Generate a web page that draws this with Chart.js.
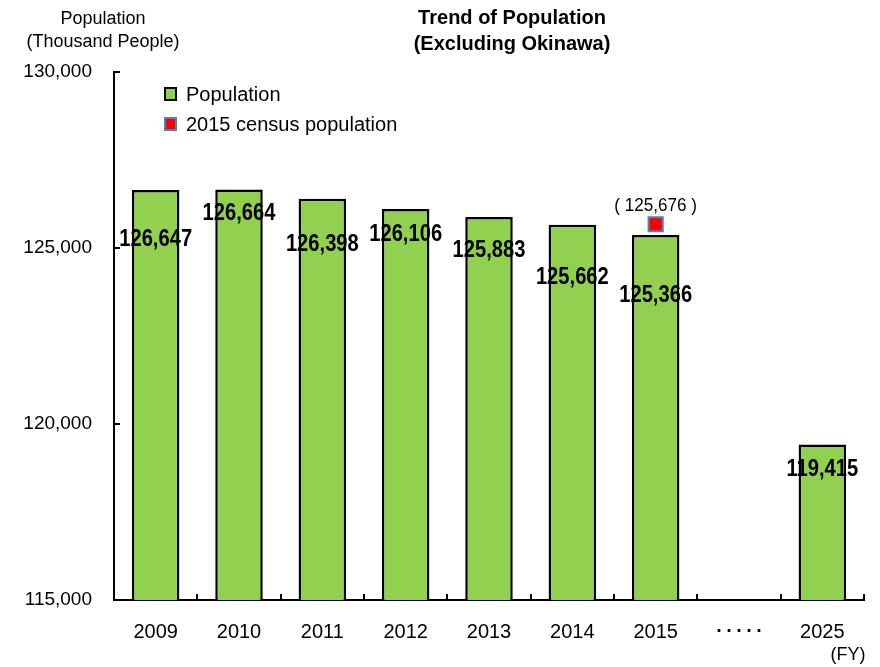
<!DOCTYPE html>
<html>
<head>
<meta charset="utf-8">
<title>Trend of Population</title>
<script src="https://cdn.jsdelivr.net/npm/chart.js@4.4.1/dist/chart.umd.min.js"></script>
<style>
  html, body { margin: 0; padding: 0; background: #fff; }
</style>
</head>
<body>
<canvas id="chart" width="880" height="667"></canvas>
<script>
// --- data (thousand people) ---
const years = ['2009', '2010', '2011', '2012', '2013', '2014', '2015', '･････', '2025'];
const population = [126647, 126664, 126398, 126106, 125883, 125662, 125366, null, 119415];
const census = [null, null, null, null, null, null, 125676, null, null];
const yTicks = [115000, 120000, 125000, 130000];

// how far below each bar top the value label sits (px), like in the original
const labelDrop = [49, 24, 46, 25, 33, 53, 60, 0, 25];

const GREEN = '#92D050';
const RED = '#FF0000';
const BLUE = '#4F81BD';
const SANS = "'Liberation Sans', Arial, sans-serif";

const fmt = v => v.toLocaleString('en-US');

// value labels, legend, titles and the little inward tick marks
const decor = {
    id: 'decor',
    afterDraw(chart) {
        const { ctx, chartArea: a, scales: { x, y } } = chart;
        ctx.save();

        // tick marks pointing into the plot
        ctx.strokeStyle = '#000';
        ctx.lineWidth = 2;
        const step = (a.right - a.left) / years.length;
        years.forEach((_, i) => {
            const px = Math.round(x.getPixelForValue(i) + step / 2);
            ctx.beginPath();
            ctx.moveTo(px, a.bottom);
            ctx.lineTo(px, a.bottom - 6);
            ctx.stroke();
        });
        yTicks.forEach(v => {
            const py = Math.round(y.getPixelForValue(v));
            ctx.beginPath();
            ctx.moveTo(a.left, py);
            ctx.lineTo(a.left + 6, py);
            ctx.stroke();
        });

        // bar value labels: bold, squeezed horizontally (no narrow font installed)
        ctx.fillStyle = '#000';
        ctx.textAlign = 'center';
        ctx.textBaseline = 'middle';
        ctx.font = 'bold 24px ' + SANS;
        population.forEach((v, i) => {
            if (v == null) return;
            ctx.save();
            ctx.translate(x.getPixelForValue(i), y.getPixelForValue(v) + labelDrop[i]);
            ctx.scale(0.84, 1);
            ctx.fillText(fmt(v), 0, 0);
            ctx.restore();
        });

        // census label
        ctx.font = '19px ' + SANS;
        census.forEach((v, i) => {
            if (v == null) return;
            ctx.save();
            ctx.translate(x.getPixelForValue(i), y.getPixelForValue(v) - 18);
            ctx.scale(0.9, 1);
            ctx.fillText('( ' + fmt(v) + ' )', 0, 0);
            ctx.restore();
        });

        // legend inside the plot
        const ds = chart.data.datasets;
        ctx.textAlign = 'left';
        ctx.font = '20px ' + SANS;
        [[ds[0], 94], [ds[1], 124]].forEach(([d, ly]) => {
            ctx.fillStyle = d.legendFill;
            ctx.fillRect(165, ly - 6, 11, 12);
            ctx.strokeStyle = d.legendEdge;
            ctx.lineWidth = 2;
            ctx.strokeRect(165, ly - 6, 11, 12);
            ctx.fillStyle = '#000';
            ctx.fillText(d.label, 186, ly + 1);
        });

        // chart title
        ctx.textAlign = 'center';
        ctx.font = 'bold 20px ' + SANS;
        ctx.fillText('Trend of Population', 512, 18);
        ctx.fillText('(Excluding Okinawa)', 512, 44);

        // y axis title
        ctx.font = '18px ' + SANS;
        ctx.fillText('Population', 103, 19);
        ctx.fillText('(Thousand People)', 103, 42);

        // x axis unit
        ctx.fillText('(FY)', 848, 655);

        ctx.restore();
    }
};

new Chart(document.getElementById('chart'), {
    type: 'bar',
    data: {
        labels: years,
        datasets: [
            {
                label: 'Population',
                data: population,
                backgroundColor: GREEN,
                borderColor: '#000',
                borderWidth: 2.5,
                barPercentage: 0.57,
                categoryPercentage: 1,
                legendFill: GREEN,
                legendEdge: '#000'
            },
            {
                type: 'line',
                label: '2015 census population',
                data: census,
                showLine: false,
                pointStyle: 'rect',
                pointRadius: 10,
                pointBackgroundColor: RED,
                pointBorderColor: BLUE,
                pointBorderWidth: 2,
                legendFill: RED,
                legendEdge: BLUE
            }
        ]
    },
    options: {
        responsive: false,
        animation: false,
        devicePixelRatio: 1,
        layout: { padding: { left: 0, top: 72, right: 16, bottom: 0 } },
        plugins: {
            legend: { display: false },
            tooltip: { enabled: false },
            title: { display: false }
        },
        scales: {
            x: {
                grid: { display: false, drawTicks: false },
                border: { color: '#000', width: 2 },
                ticks: { color: '#000', padding: 20, font: { family: SANS, size: 20 }, maxRotation: 0, autoSkip: false },
                afterFit: s => { s.height = 67; }
            },
            y: {
                min: 115000,
                max: 130000,
                grid: { display: false, drawTicks: false },
                border: { color: '#000', width: 2 },
                afterBuildTicks: s => { s.ticks = yTicks.map(v => ({ value: v })); },
                ticks: { color: '#000', padding: 22, font: { family: SANS, size: 19 }, callback: v => fmt(v) },
                afterFit: s => { s.width = 114; }
            }
        }
    },
    plugins: [decor]
});
</script>
</body>
</html>
